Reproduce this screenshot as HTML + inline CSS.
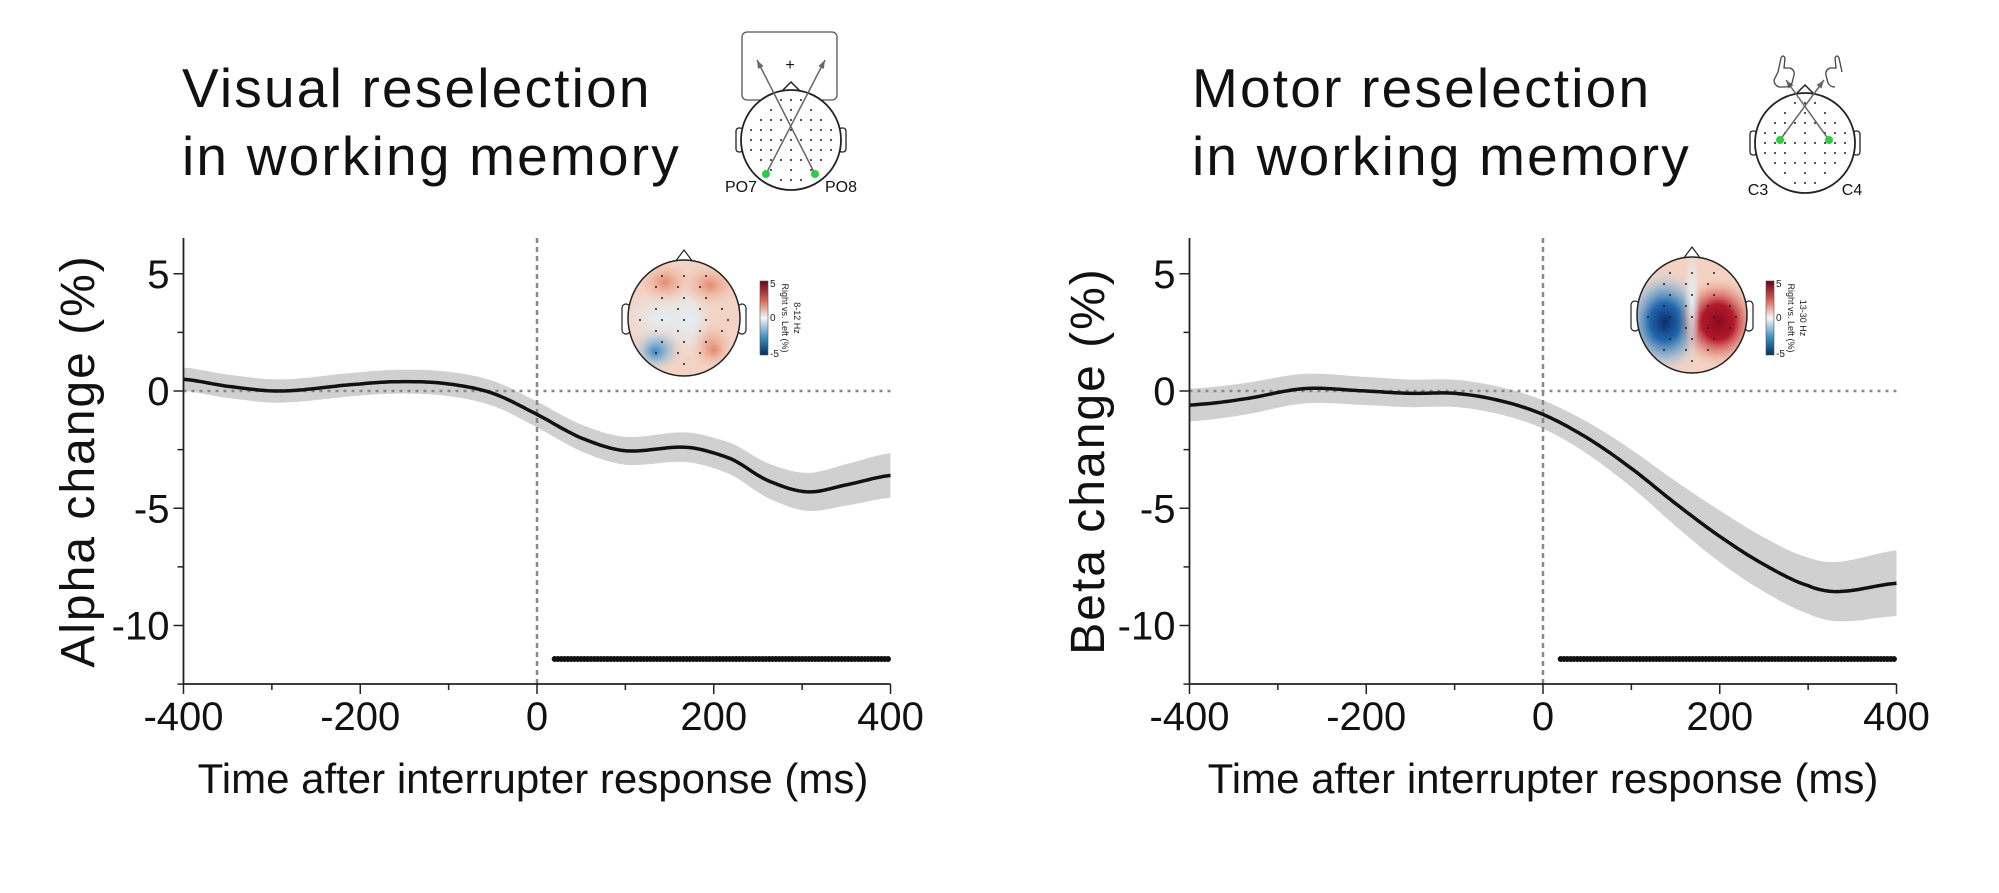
<!DOCTYPE html>
<html><head><meta charset="utf-8"><style>
body{margin:0;background:#fff;}
svg{display:block;}
text{font-family:"Liberation Sans",sans-serif;}
.tk{font-family:"Liberation Sans Narrow","Liberation Sans",sans-serif;font-size:40px;fill:#111;}
</style></head><body>
<svg id="s" width="1999" height="893" viewBox="0 0 1999 893" xmlns="http://www.w3.org/2000/svg">
<defs>
<linearGradient id="cb" x1="0" y1="0" x2="0" y2="1">
<stop offset="0" stop-color="#67001f"/><stop offset="0.25" stop-color="#d6604d"/><stop offset="0.5" stop-color="#f7f7f7"/><stop offset="0.75" stop-color="#4393c3"/><stop offset="1" stop-color="#053061"/>
</linearGradient>
<radialGradient id="rR"><stop offset="0" stop-color="#8b0a1e"/><stop offset="0.4" stop-color="#b2182b"/><stop offset="1" stop-color="#f4a582" stop-opacity="0"/></radialGradient>
<radialGradient id="bB"><stop offset="0" stop-color="#08306b"/><stop offset="0.4" stop-color="#2166ac"/><stop offset="1" stop-color="#92c5de" stop-opacity="0"/></radialGradient>
<radialGradient id="rS"><stop offset="0" stop-color="#e38a70"/><stop offset="1" stop-color="#f4c8b4" stop-opacity="0"/></radialGradient>
<radialGradient id="bS"><stop offset="0" stop-color="#3f86c0"/><stop offset="1" stop-color="#bcd8ea" stop-opacity="0"/></radialGradient>
<radialGradient id="wS"><stop offset="0" stop-color="#e4eef5"/><stop offset="1" stop-color="#e4eef5" stop-opacity="0"/></radialGradient>
<clipPath id="cL"><ellipse cx="684" cy="318" rx="56" ry="58"/></clipPath>
<clipPath id="cR"><ellipse cx="1692" cy="315" rx="55" ry="58"/></clipPath>
</defs>
<g id="g"></g>
<g font-size="55" fill="#111" letter-spacing="2.2">
<text x="182" y="107">Visual reselection</text>
<text x="182" y="175">in working memory</text>
<text x="1192" y="107">Motor reselection</text>
<text x="1192" y="175">in working memory</text>
</g>
<text transform="translate(94,461) rotate(-90)" text-anchor="middle" font-size="48" letter-spacing="2" fill="#111">Alpha change (%)</text>
<text transform="translate(1104,461) rotate(-90)" text-anchor="middle" font-size="48" letter-spacing="2" fill="#111">Beta change (%)</text>
<text x="533" y="793" text-anchor="middle" font-size="42" fill="#111">Time after interrupter response (ms)</text>
<text x="1543" y="793" text-anchor="middle" font-size="42" fill="#111">Time after interrupter response (ms)</text>
</svg>
<script>
const NS="http://www.w3.org/2000/svg";
const g=document.getElementById('g');
function el(t,a,p){const e=document.createElementNS(NS,t);for(const k in a)e.setAttribute(k,a[k]);(p||g).appendChild(e);return e;}
function txt(x,y,s,a,cls){const e=el('text',Object.assign({x:x,y:y},a||{}));e.textContent=s;if(cls)e.setAttribute('class',cls);return e;}
const Y=v=>391-23.45*v;
function interp(pts,t){
 let i=0;while(i<pts.length-2&&pts[i+1][0]<t)i++;
 const p0=pts[Math.max(i-1,0)],p1=pts[i],p2=pts[i+1],p3=pts[Math.min(i+2,pts.length-1)];
 const u=(t-p1[0])/(p2[0]-p1[0]);
 const f=(a,b,c,d)=>0.5*((2*b)+(-a+c)*u+(2*a-5*b+4*c-d)*u*u+(-a+3*b-3*c+d)*u*u*u);
 return f(p0[1],p1[1],p2[1],p3[1]);
}
function panel(x0,pts,err){
 const X=t=>x0+t*0.8838;
 const xl=X(-400),xr=X(400);
 let up=[],dn=[],mid=[];
 for(let t=-400;t<=400;t+=4){const v=interp(pts,t),e=interp(err,t);up.push(X(t).toFixed(1)+','+Y(v+e).toFixed(1));dn.unshift(X(t).toFixed(1)+','+Y(v-e).toFixed(1));mid.push(X(t).toFixed(1)+','+Y(v).toFixed(1));}
 el('polygon',{points:up.concat(dn).join(' '),fill:'#d0d0d0'});
 el('line',{x1:xl,y1:Y(0),x2:xr,y2:Y(0),stroke:'#888','stroke-width':2.5,'stroke-dasharray':'3,5'});
 el('line',{x1:X(0),y1:238,x2:X(0),y2:684,stroke:'#888','stroke-width':2.5,'stroke-dasharray':'5,4'});
 el('polyline',{points:mid.join(' '),fill:'none',stroke:'#111','stroke-width':3.5});
 el('line',{x1:X(20),y1:659,x2:xr,y2:659,stroke:'#111','stroke-width':6,'stroke-dasharray':'0,3.3','stroke-linecap':'round'});
 el('line',{x1:xl,y1:238,x2:xl,y2:684,stroke:'#222','stroke-width':1.8});
 el('line',{x1:xl,y1:684,x2:xr,y2:684,stroke:'#222','stroke-width':1.8});
 for(let v=5;v>=-12.5;v-=2.5){const maj=(v%5===0);el('line',{x1:xl-(maj?10:6),y1:Y(v),x2:xl,y2:Y(v),stroke:'#222','stroke-width':1.5});
  if(maj)txt(xl-14,Y(v)+14,(v<0?'-':'')+Math.abs(v),{'text-anchor':'end'},'tk');}
 for(let t=-400;t<=400;t+=100){const maj=(t%200===0);el('line',{x1:X(t),y1:684,x2:X(t),y2:684+(maj?10:6),stroke:'#222','stroke-width':1.5});
  if(maj)txt(X(t),730,(t<0?'-':'')+Math.abs(t),{'text-anchor':'middle'},'tk');}
}
panel(537,[[-400,0.5],[-350,0.2],[-290,0],[-200,0.3],[-150,0.4],[-100,0.3],[-50,-0.1],[0,-1.0],[50,-2.0],[100,-2.55],[170,-2.4],[220,-2.9],[260,-3.8],[305,-4.3],[350,-4.0],[400,-3.6]],
 [[-400,0.5],[-200,0.5],[0,0.55],[200,0.65],[300,0.8],[400,0.95]]);
panel(1543,[[-400,-0.6],[-340,-0.35],[-270,0.1],[-200,0],[-150,-0.1],[-100,-0.1],[-50,-0.4],[0,-1.0],[50,-2.0],[100,-3.3],[150,-4.8],[200,-6.2],[250,-7.4],[300,-8.3],[335,-8.55],[400,-8.2]],
 [[-400,0.7],[-200,0.6],[0,0.6],[100,0.8],[200,1.1],[300,1.2],[400,1.4]]);
function topo(cx,cy,rx,ry,clip,blobs,cbx,lbl){
 el('path',{d:`M${cx-9},${cy-ry+2} L${cx},${cy-ry-10} L${cx+9},${cy-ry+2}`,fill:'#fff',stroke:'#222','stroke-width':1.2});
 el('rect',{x:cx-rx-6,y:cy-14,width:8,height:30,rx:4,fill:'#fff',stroke:'#222','stroke-width':1.2});
 el('rect',{x:cx+rx-2,y:cy-14,width:8,height:30,rx:4,fill:'#fff',stroke:'#222','stroke-width':1.2});
 const gg=el('g',{'clip-path':`url(#${clip})`});
 el('rect',{x:cx-rx,y:cy-ry,width:2*rx,height:2*ry,fill:blobs.bg},gg);
 blobs.list.forEach(b=>el('ellipse',{cx:b[0],cy:b[1],rx:b[2],ry:b[3],fill:`url(#${b[4]})`},gg));
 const pts=[];
 for(let i=-4;i<=4;i++)for(let j=-4;j<=4;j++){const x=cx+j*11+(i%2?5:0),y=cy+i*11+2;if(((x-cx)/rx)**2+((y-cy)/ry)**2<0.72&&(i+j)%2==0)el('circle',{cx:x,cy:y,r:1,fill:'#222'});}
 el('ellipse',{cx:cx,cy:cy,rx:rx,ry:ry,fill:'none',stroke:'#222','stroke-width':1.5});
 el('rect',{x:cbx,y:281,width:8,height:74,fill:'url(#cb)',stroke:'#555','stroke-width':0.6});
 txt(cbx+10,287,'5',{'font-size':10,fill:'#222'});txt(cbx+10,321,'0',{'font-size':10,fill:'#222'});txt(cbx+10,357,'-5',{'font-size':10,fill:'#222'});
 const t=el('text',{transform:`translate(${cbx+22},318) rotate(90)`,'text-anchor':'middle','font-size':9,fill:'#222'});t.textContent='Right vs. Left (%)';
 const t2=el('text',{transform:`translate(${cbx+34},318) rotate(90)`,'text-anchor':'middle','font-size':9,fill:'#222'});t2.textContent=lbl;
}
topo(684,318,56,58,'cL',{bg:'#f3d3c4',list:[[662,318,40,30,'wS'],[690,320,22,40,'wS'],[657,350,26,22,'bS'],[655,352,16,14,'bS'],[712,347,22,24,'rS'],[714,350,14,14,'rS'],[710,285,30,22,'rS'],[665,282,28,22,'rS']]},760,'8-12 Hz');
topo(1692,315,55,58,'cR',{bg:'#f3d2c2',list:[[1665,322,42,56,'bS'],[1665,322,38,46,'bB'],[1718,322,40,44,'rR'],[1692,300,8,60,'wS']]},1766,'13-30 Hz');
function head(cx,cy,l1,l2,gx1,gy,gx2,ax1,ay,ax2,lx){
 el('path',{d:`M${cx-10},${cy-48} L${cx},${cy-58} L${cx+10},${cy-48}`,fill:'#fff',stroke:'#222','stroke-width':1.5});
 el('rect',{x:cx-55,y:cy-12,width:7,height:24,rx:3,fill:'#fff',stroke:'#222','stroke-width':1.3});
 el('rect',{x:cx+48,y:cy-12,width:7,height:24,rx:3,fill:'#fff',stroke:'#222','stroke-width':1.3});
 el('circle',{cx:cx,cy:cy,r:50,fill:'#fff',stroke:'#222','stroke-width':1.8});
 for(let i=-4;i<=4;i++)for(let j=-4;j<=4;j++){const x=cx+j*10,y=cy+i*10;if((x-cx)**2+(y-cy)**2<42*42&&(Math.abs(j)!=1||i%2==0))el('circle',{cx:x,cy:y,r:1,fill:'#222'});}
 [[gx1,ax2],[gx2,ax1]].forEach(([gx,ax])=>{el('line',{x1:gx,y1:gy,x2:ax,y2:ay,stroke:'#666','stroke-width':1.5});
  const a=Math.atan2(ay-gy,ax-gx),L=9;el('polygon',{points:`${ax},${ay} ${ax-L*Math.cos(a-0.35)},${ay-L*Math.sin(a-0.35)} ${ax-L*Math.cos(a+0.35)},${ay-L*Math.sin(a+0.35)}`,fill:'#666'});});
 el('circle',{cx:gx1,cy:gy,r:4,fill:'#2ecc40'});el('circle',{cx:gx2,cy:gy,r:4,fill:'#2ecc40'});
 txt(cx-lx,cy+52,l1,{'font-size':16,fill:'#111','text-anchor':'middle'});txt(cx+lx,cy+52,l2,{'font-size':16,fill:'#111','text-anchor':'middle'});
}
el('rect',{x:742,y:32,width:95,height:68,rx:5,fill:'none',stroke:'#555','stroke-width':1.3});
txt(790,70,'+',{'font-size':16,'text-anchor':'middle',fill:'#111'});
head(791,140,'PO7','PO8',766,174,815,757,60,825,50);
head(1805,143,'C3','C4',1780,140,1829,1786,80,1824,47);
function hand(x,y,flip){
 const s=flip?-1:1;
 el('path',{d:`M${x},${y} l${s*3},-14 q${s*2},-4 ${s*4},0 l${s*-1},10 l${s*6},0 q${s*5},2 ${s*4},7 l${s*-2},8 q${s*-2},4 ${s*-7},4 l-${s*6},0 q${s*-5},-2 ${s*-5},-7 z`,fill:'none',stroke:'#444','stroke-width':1.3});
}
hand(1778,72,false);hand(1842,72,true);
</script>
</body></html>
